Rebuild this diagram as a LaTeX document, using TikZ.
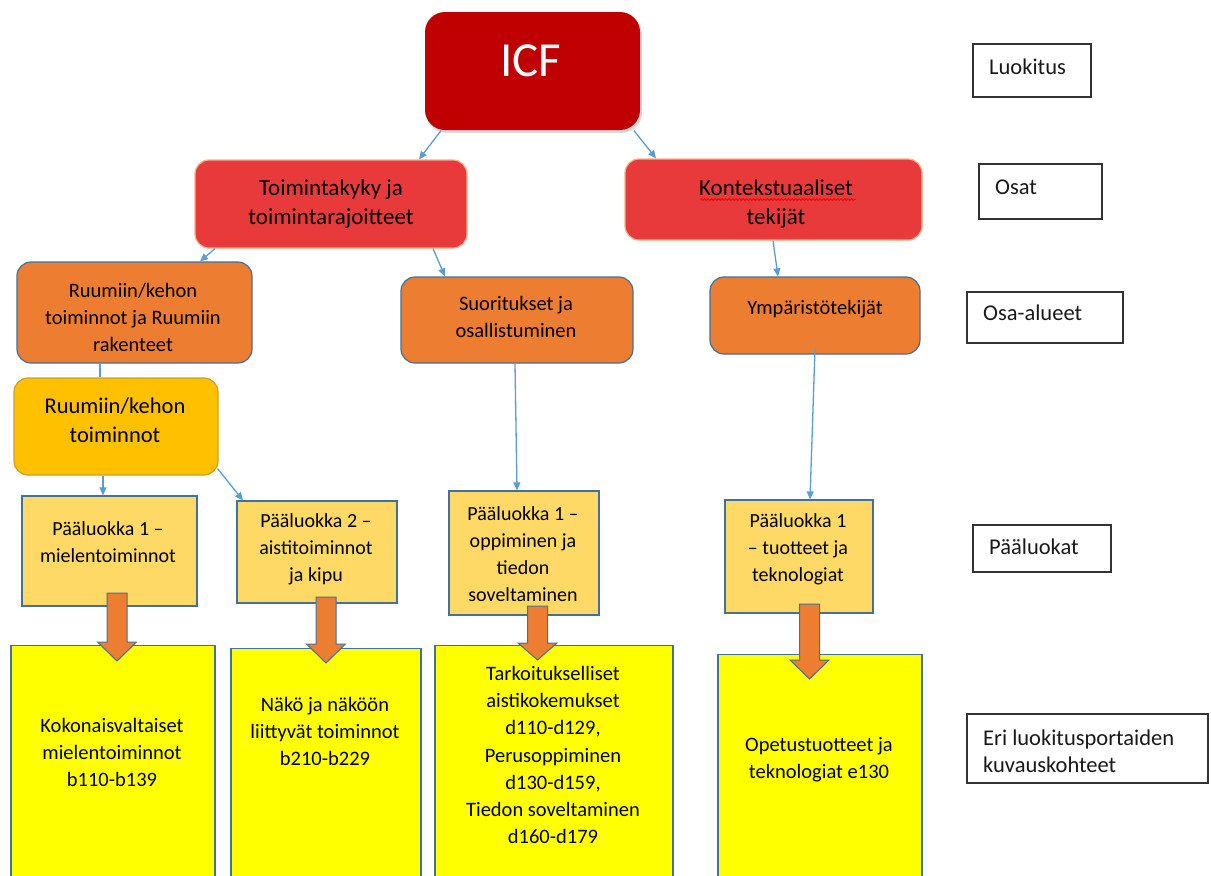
\documentclass[tikz,border=0pt]{standalone}
\usepackage{fontspec}
\setmainfont{Carlito}
\usetikzlibrary{arrows.meta,calc,decorations.pathmorphing,shadows}
\definecolor{icfred}{HTML}{C00000}
\definecolor{redtwo}{HTML}{E83A3A}
\definecolor{redtwoline}{HTML}{F4B183}
\definecolor{orangebox}{HTML}{ED7D31}
\definecolor{bluegray}{HTML}{41719C}
\definecolor{goldbox}{HTML}{FFC000}
\definecolor{goldline}{HTML}{C9A227}
\definecolor{lightgold}{HTML}{FFD966}
\definecolor{yellowbox}{HTML}{FFFF00}
\definecolor{cblue}{HTML}{5B9BD5}
\newcommand{\blockarr}[4]{%
  \filldraw[fill=orangebox, draw=bluegray, line width=1pt, line join=miter]
    ({#1-10},{#2}) -- ({#1+10},{#2}) -- ({#1+10},{#3}) -- ({#1+19.5},{#3})
    -- ({#1},{#4}) -- ({#1-19.5},{#3}) -- ({#1-10},{#3}) -- cycle;}
\begin{document}
\begin{tikzpicture}[x=1pt,y=-1pt,
  box/.style={rectangle, inner sep=0pt, line width=1.2pt},
  rbox/.style={box, rounded corners=14pt},
  txt/.style={inner sep=0pt, align=center, text=black},
  lvltwo/.style={txt, font=\fontsize{23}{29.5}\selectfont},
  lvlthree/.style={txt, font=\fontsize{20.5}{27}\selectfont},
  lbl/.style={inner sep=0pt, align=left, anchor=west, text=black!90, font=\fontsize{22.5}{27}\selectfont},
  lblbox/.style={box, draw=black!80, fill=white, line width=1.1pt},
  conn/.style={draw=cblue, line width=1.3pt, -{Triangle[length=8pt,width=7pt]}},
  plain/.style={draw=cblue, line width=1.3pt}
]
\useasboundingbox (0,0) rectangle (1211,876);
\clip (0,0) rectangle (1211,876);

% ---- level 1
\node[rbox, rounded corners=20pt, fill=icfred, minimum width=215pt, minimum height=118pt,
  drop shadow={shadow xshift=2pt, shadow yshift=-3pt, opacity=0.3}] (icf) at (532.5,71) {};
\node[txt, text=white, font=\fontsize{49}{55}\selectfont] (ticf) at (531,61) {ICF};

% ---- level 2
\node[rbox, fill=redtwo, draw=redtwoline, minimum width=272pt, minimum height=88pt] (toim) at (331,204) {};
\node[lvltwo] (ttoim) at (331,204) {Toimintakyky ja\\toimintarajoitteet};
\node[rbox, fill=redtwo, draw=redtwoline, minimum width=297pt, minimum height=81pt] (kont) at (773.5,199.5) {};
\node[lvltwo] (tkont) at (776,204) {Kontekstuaaliset\\tekijät};
\draw[red, line width=0.8pt, decorate, decoration={snake, amplitude=0.9pt, segment length=3.5pt}] (700,199.5) -- (856,199.5);

% ---- level 3
\node[rbox, fill=orangebox, draw=bluegray, minimum width=235pt, minimum height=101pt] (ruum) at (134.5,312.5) {};
\node[lvlthree] (truum) at (133,317) {Ruumiin/kehon\\toiminnot ja Ruumiin\\rakenteet};
\node[rbox, fill=orangebox, draw=bluegray, minimum width=232pt, minimum height=86pt] (suor) at (517,320) {};
\node[lvlthree] (tsuor) at (516,317) {Suoritukset ja\\osallistuminen};
\node[rbox, fill=orangebox, draw=bluegray, minimum width=210pt, minimum height=77pt] (ymp) at (815,315.5) {};
\node[lvlthree] (tymp) at (815,309) {Ympäristötekijät};

\node[rbox, fill=goldbox, draw=goldline, minimum width=204pt, minimum height=97pt] (rkt) at (116,426.5) {};
\node[lvltwo, font=\fontsize{22.5}{29}\selectfont] (trkt) at (115,420) {Ruumiin/kehon\\toiminnot};

% ---- paaluokat
\node[box, fill=lightgold, draw=bluegray, minimum width=175pt, minimum height=110pt] (p1m) at (109.5,551) {};
\node[lvlthree, font=\fontsize{20}{27}\selectfont] (tp1m) at (108,542) {Pääluokka 1 –\\mielentoiminnot};
\node[box, fill=lightgold, draw=bluegray, minimum width=160pt, minimum height=102pt] (p2) at (317,552) {};
\node[lvlthree, font=\fontsize{20}{27}\selectfont] (tp2) at (316,549) {Pääluokka 2 –\\aistitoiminnot\\ja kipu};
\node[box, fill=lightgold, draw=bluegray, minimum width=150pt, minimum height=124pt] (p1o) at (524,553) {};
\node[lvlthree, font=\fontsize{20}{27}\selectfont] (tp1o) at (523,554) {Pääluokka 1 –\\oppiminen ja\\tiedon\\soveltaminen};
\node[box, fill=lightgold, draw=bluegray, minimum width=148pt, minimum height=113pt] (p1t) at (799,556.5) {};
\node[lvlthree, font=\fontsize{20}{27}\selectfont] (tp1t) at (798,549) {Pääluokka 1\\– tuotteet ja\\teknologiat};

% ---- bottom boxes
\node[box, fill=yellowbox, draw=bluegray, minimum width=204pt, minimum height=260pt, anchor=north] (b1) at (113,645) {};
\node[lvlthree] (tb1) at (112,752) {Kokonaisvaltaiset\\mielentoiminnot\\b110-b139};
\node[box, fill=yellowbox, draw=bluegray, minimum width=190pt, minimum height=260pt, anchor=north] (b2) at (326,648) {};
\node[lvlthree] (tb2) at (325,731.5) {Näkö ja näköön\\liittyvät toiminnot\\b210-b229};
\node[box, fill=yellowbox, draw=bluegray, minimum width=238pt, minimum height=260pt, anchor=north] (b3) at (554,645) {};
\node[lvlthree, font=\fontsize{20.5}{27.3}\selectfont] (tb3) at (553,755) {Tarkoitukselliset\\aistikokemukset\\d110-d129,\\Perusoppiminen\\d130-d159,\\Tiedon soveltaminen\\d160-d179};
\node[box, fill=yellowbox, draw=bluegray, minimum width=204pt, minimum height=260pt, anchor=north] (b4) at (820,654) {};
\node[lvlthree] (tb4) at (819,760) {Opetustuotteet ja\\teknologiat e130};

% ---- block arrows
\blockarr{117}{593}{642}{661}
\blockarr{326}{597}{644}{663}
\blockarr{537.5}{606}{643}{660}
\blockarr{809.5}{604}{660}{679}

% ---- connectors
\draw[conn] (441,0 |- icf.south) -- (419,0 |- toim.north);
\draw[conn] (634,0 |- icf.south) -- (656,0 |- kont.north);
\draw[conn] (215,0 |- toim.south) -- (200,0 |- ruum.north);
\draw[conn] (433,0 |- toim.south) -- (445,0 |- suor.north);
\draw[conn] (773,0 |- kont.south) -- (778,0 |- ymp.north);
\draw[plain] (100,0 |- ruum.south) -- (100,0 |- rkt.north);
\draw[conn] (103,0 |- rkt.south) -- (103,0 |- p1m.north);
\draw[conn] ($(rkt.south east)+(-1,-7)$) -- (243,0 |- p2.north);
\draw[conn] (515,0 |- suor.south) -- (517,0 |- p1o.north);
\draw[conn] ($(ymp.south)+(0,-6)$) -- (810,0 |- p1t.north);

% ---- level labels
\node[lblbox, minimum width=118pt, minimum height=53pt] (lluok) at (1032,70.5) {};
\node[lbl] (tluok) at (989,67) {Luokitus};
\node[lblbox, minimum width=123pt, minimum height=55pt] (losat) at (1040.5,191.5) {};
\node[lbl] (tosat) at (995,187) {Osat};
\node[lblbox, minimum width=156pt, minimum height=51pt] (losa) at (1045,317.5) {};
\node[lbl] (tosa) at (983,313) {Osa-alueet};
\node[lblbox, minimum width=138pt, minimum height=47pt] (lpaa) at (1042,548.5) {};
\node[lbl] (tpaa) at (989,547) {Pääluokat};
\node[lblbox, minimum width=241pt, minimum height=69pt] (leri) at (1087.5,748.5) {};
\node[lbl] (teri) at (983,751.5) {Eri luokitusportaiden\\kuvauskohteet};
\end{tikzpicture}
\end{document}
